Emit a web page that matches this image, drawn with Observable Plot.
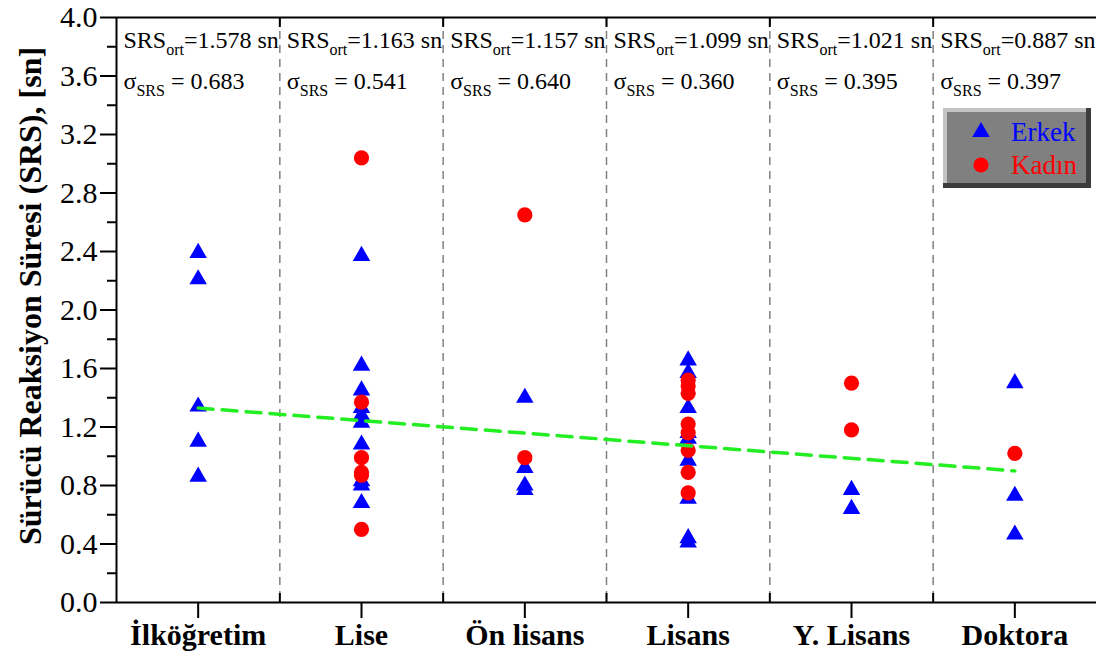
<!DOCTYPE html>
<html><head><meta charset="utf-8">
<script src="https://cdn.jsdelivr.net/npm/d3@7"></script>
<script src="https://cdn.jsdelivr.net/npm/@observablehq/plot@0.6"></script>
<style>
html,body{margin:0;padding:0;background:#fff;}
#wrap{position:relative;width:1096px;height:653px;font-family:"Liberation Serif","Times New Roman",serif;}
#legend{position:absolute;left:943px;top:108px;}
</style></head><body><div id="wrap"></div>
<script>
const categories = ["İlköğretim", "Lise", "Ön lisans", "Lisans", "Y. Lisans", "Doktora"];
const erkek = [
  [2.39, 2.21, 1.34, 1.10, 0.86],
  [2.37, 1.62, 1.45, 1.33, 1.28, 1.23, 1.08, 0.83, 0.80, 0.68],
  [1.40, 0.92, 0.80, 0.77],
  [1.655, 1.57, 1.33, 1.16, 1.12, 0.97, 0.71, 0.44, 0.41],
  [0.77, 0.64],
  [1.50, 0.73, 0.465]
];
const kadin = [
  [],
  [3.04, 1.37, 0.99, 0.89, 0.87, 0.50],
  [2.65, 0.99],
  [1.52, 1.48, 1.43, 1.22, 1.16, 1.04, 0.89, 0.75],
  [1.50, 1.18],
  [1.02]
];
const srsMean = ["1.578", "1.163", "1.157", "1.099", "1.021", "0.887"];
const srsStd = ["0.683", "0.541", "0.640", "0.360", "0.395", "0.397"];
const trendY = [1.33, 0.90];
const yTicks = [0, 0.4, 0.8, 1.2, 1.6, 2.0, 2.4, 2.8, 3.2, 3.6, 4.0];
const yMinorTicks = [0.2, 0.6, 1.0, 1.4, 1.8, 2.2, 2.6, 3.0, 3.4, 3.8];
const yLabel = "Sürücü Reaksiyon Süresi (SRS), [sn]";
const legendItems = [
  {label: "Erkek", color: "#0000ff", symbol: "triangle"},
  {label: "Kadın", color: "#ff0000", symbol: "circle"}
];

const FONT = '"Liberation Serif", "Times New Roman", serif';
const catIndex = categories.map((c, i) => i + 1);
const dividers = categories.slice(1).map((c, i) => i + 1.5);
const erkekData = erkek.flatMap((vals, i) => vals.map(v => ({x: i + 1, v})));
const kadinData = kadin.flatMap((vals, i) => vals.map(v => ({x: i + 1, v})));
const annot = categories.map((c, i) => ({x: i + 0.5, mean: srsMean[i], sd: srsStd[i]}));
const trend = [{x: 1, y: trendY[0]}, {x: categories.length, y: trendY[1]}];

const chart = Plot.plot({
  width: 1096, height: 653,
  marginLeft: 116, marginRight: 0, marginTop: 17, marginBottom: 51,
  style: {fontFamily: FONT, background: "transparent", overflow: "visible", color: "black"},
  x: {domain: [0.5, categories.length + 0.5]},
  y: {domain: [0, 4]},
  marks: [
    Plot.ruleX(dividers, {stroke: "#808080", strokeWidth: 1.5, strokeDasharray: "8,6"}),
    Plot.ruleY([4], {stroke: "black", strokeWidth: 2}),
    Plot.ruleY([0], {stroke: "black", strokeWidth: 2}),
    Plot.ruleX([0.5], {stroke: "black", strokeWidth: 2}),
    Plot.axisY({ticks: yTicks, tickSize: 16, tickPadding: 3, tickFormat: d => d.toFixed(1), fontSize: 30, label: null, strokeWidth: 2}),
    Plot.axisY({ticks: yMinorTicks, tickSize: 9, tickFormat: () => "", label: null, strokeWidth: 2}),
    Plot.axisX({ticks: catIndex, tickSize: 16, tickPadding: 5, tickFormat: i => categories[i - 1], fontSize: 30, fontWeight: "bold", label: null, strokeWidth: 2}),
    Plot.axisX({ticks: dividers, tickSize: -9, tickFormat: () => "", label: null, strokeWidth: 2}),
    Plot.axisX({anchor: "top", ticks: dividers, tickSize: -9, tickFormat: () => "", label: null, strokeWidth: 2}),
    Plot.dot(erkekData, {x: "x", y: "v", symbol: "triangle", r: 6.5, fill: "#0000ff"}),
    Plot.dot(kadinData, {x: "x", y: "v", symbol: "circle", r: 7.6, fill: "#ff0000"}),
    Plot.line(trend, {x: "x", y: "y", stroke: "#22ee22", strokeWidth: 3.5, strokeDasharray: "15,9"}),
    Plot.text(annot, {x: "x", frameAnchor: "top", dy: 30, dx: 7, textAnchor: "start", lineAnchor: "bottom", text: d => `SRS|ort|=${d.mean} sn`, fontSize: 24}),
    Plot.text(annot, {x: "x", frameAnchor: "top", dy: 71, dx: 7, textAnchor: "start", lineAnchor: "bottom", text: d => `σ|SRS| = ${d.sd}`, fontSize: 24})
  ]
});

const svg = d3.select(chart);
svg.selectAll('g[aria-label="text"] text').each(function () {
  const parts = this.textContent.split("|");
  if (parts.length < 3) return;
  const t = d3.select(this);
  t.text(null);
  t.append("tspan").text(parts[0]);
  t.append("tspan").attr("font-size", 16).attr("dy", 7).text(parts[1]);
  t.append("tspan").attr("dy", -7).text(parts[2]);
});
svg.append("text")
  .attr("transform", "translate(41,296) rotate(-90)")
  .attr("text-anchor", "middle")
  .attr("font-weight", "bold")
  .attr("font-size", 32)
  .attr("font-family", FONT)
  .attr("fill", "black")
  .text(yLabel);

const wrap = document.getElementById("wrap");
wrap.appendChild(chart);

// legend box
const lg = d3.select(wrap).append("svg").attr("id", "legend").attr("width", 148).attr("height", 80);
lg.append("rect").attr("x", 0).attr("y", 0).attr("width", 148).attr("height", 80).attr("fill", "#3c3c3c");
lg.append("rect").attr("x", 0).attr("y", 0).attr("width", 143).attr("height", 75).attr("fill", "#c4c4c4");
lg.append("rect").attr("x", 4).attr("y", 4).attr("width", 139).attr("height", 71).attr("fill", "#808080");
legendItems.forEach((it, i) => {
  const cy = 24 + i * 33;
  const sym = it.symbol === "triangle" ? d3.symbolTriangle : d3.symbolCircle;
  const r = it.symbol === "triangle" ? 6.5 : 7.6;
  lg.append("path").attr("d", d3.symbol(sym, Math.PI * r * r)()).attr("transform", `translate(38,${cy})`).attr("fill", it.color);
  lg.append("text").attr("x", 68).attr("y", cy + 9).attr("font-size", 27)
    .attr("font-family", FONT).attr("fill", it.color).text(it.label);
});
</script></body></html>
